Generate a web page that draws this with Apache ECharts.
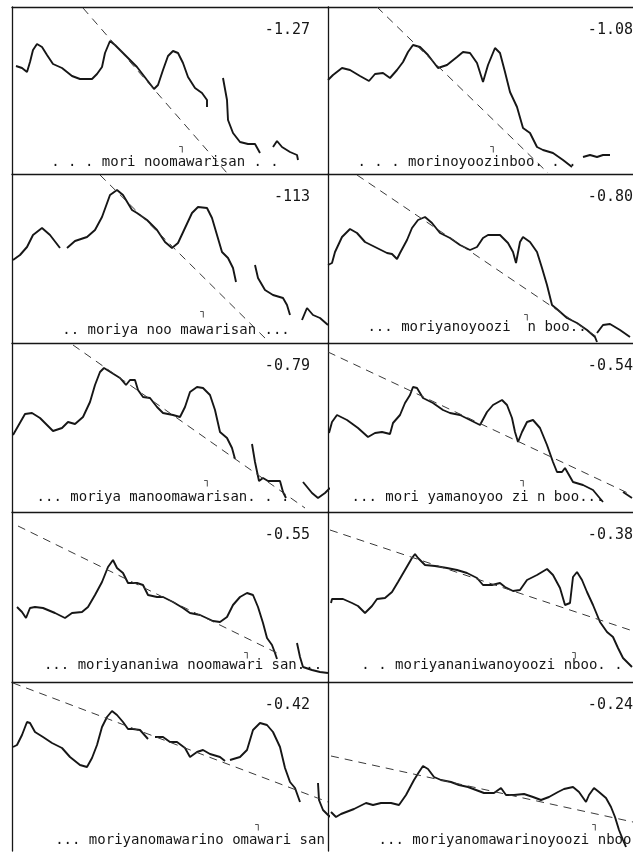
<!DOCTYPE html>
<html>
<head>
<meta charset="utf-8">
<script src="https://cdn.jsdelivr.net/npm/echarts@6/dist/echarts.min.js"></script>
<style>
  html, body { margin: 0; padding: 0; background: #fff; }
  #chart { width: 633px; height: 854px; }
</style>
</head>
<body>
<div id="chart"></div>
<script>
// F0 contours, one panel per utterance (x = time, y = pitch, panel units)
const contour1 = [
  [[4,108],[10,106],[15,102],[18,112],[21,124],[25,130],[30,127],[35,119],[41,110],[50,106],[60,98],[68,95],[80,95],[85,100],[90,107],[93,121],[98,133],[103,129],[113,119],[125,107],[135,94],[142,85],[146,89],[151,104],[156,118],[161,123],[166,121],[171,111],[176,97],[183,86],[190,81],[195,74],[195,67]],
  [[211,96],[215,74],[216,54],[221,41],[228,32],[236,30],[243,30],[248,21]],
  [[261,27],[265,33],[270,27],[278,22],[285,19],[286,14]]
]
const contour2 = [
  [[0,94],[5,99],[14,106],[22,104],[32,98],[41,93],[47,100],[55,101],[62,96],[69,104],[75,112],[80,122],[85,129],[92,127],[100,119],[110,106],[119,109],[129,117],[135,122],[142,121],[149,111],[155,92],[160,109],[167,126],[172,121],[177,102],[182,82],[189,67],[195,46],[202,41],[209,27],[215,24],[225,21],[235,14],[244,7]],
  [[255,17],[262,19],[269,17],[275,19],[282,19]]
]
const contour3 = [
  [[1,83],[8,88],[15,96],[21,108],[30,115],[38,108],[48,95]],
  [[55,95],[63,102],[75,106],[83,113],[90,126],[98,148],[105,153],[111,148],[120,133],[125,130],[135,123],[145,113],[153,101],[160,95],[166,100],[173,115],[180,130],[186,136],[195,135],[200,125],[205,108],[210,91],[216,85],[221,75],[224,61]],
  [[243,78],[246,65],[253,53],[261,48],[271,45],[275,38],[278,28]],
  [[290,23],[295,35],[301,28],[308,25],[316,18]]
]
const contour4 = [
  [[0,78],[4,80],[7,91],[14,106],[22,114],[29,110],[37,101],[49,95],[59,90],[64,89],[69,84],[72,90],[79,103],[84,115],[90,123],[97,126],[104,120],[112,110],[122,105],[132,98],[142,93],[149,96],[155,105],[160,108],[172,108],[180,100],[185,91],[188,80],[192,101],[195,106],[202,101],[209,91],[214,75],[219,58],[224,38],[230,33],[239,25],[249,20],[259,13],[267,6],[269,1]],
  [[269,10],[275,18],[282,19],[292,13],[302,6]]
]
const contour5 = [
  [[1,77],[5,84],[13,98],[20,99],[28,94],[41,81],[50,84],[56,90],[63,88],[71,95],[78,110],[83,127],[88,140],[92,144],[100,139],[108,134],[114,127],[118,132],[123,132],[126,122],[131,115],[138,114],[145,105],[151,99],[161,97],[168,95],[173,105],[178,120],[185,125],[191,124],[198,117],[203,102],[208,80],[215,74],[220,64],[223,53]],
  [[240,68],[243,50],[247,31],[251,34],[256,31],[268,31],[271,20],[274,14]],
  [[291,30],[300,19],[306,14],[313,19],[318,24]]
]
const contour6 = [
  [[1,79],[4,90],[9,97],[19,92],[30,84],[40,75],[47,79],[54,80],[62,78],[65,89],[72,97],[77,109],[82,117],[85,125],[89,124],[95,114],[105,109],[115,102],[122,99],[132,97],[142,92],[152,87],[159,100],[165,107],[174,112],[179,107],[184,94],[187,80],[190,70],[194,80],[199,90],[205,92],[212,84],[219,67],[225,50],[229,40],[234,40],[237,44],[245,30],[255,27],[265,22],[275,10]],
  [[295,20],[304,14]]
]
const contour7 = [
  [[5,75],[10,70],[14,64],[18,74],[23,75],[31,74],[43,69],[53,64],[60,69],[70,70],[76,75],[83,87],[90,100],[96,115],[101,122],[105,114],[111,109],[116,99],[125,99],[131,97],[136,87],[145,85],[151,85],[161,80],[171,74],[178,69],[188,67],[201,61],[208,60],[215,65],[221,77],[228,85],[235,89],[241,87],[246,75],[251,59],[255,44],[260,37],[263,29],[265,23]],
  [[285,39],[288,25],[291,15],[300,12],[308,10],[316,9]]
]
const contour8 = [
  [[3,79],[4,83],[15,83],[24,79],[30,76],[37,69],[44,76],[49,83],[57,84],[64,90],[70,100],[77,112],[84,124],[87,128],[90,124],[97,117],[107,116],[119,114],[129,112],[139,109],[149,104],[155,97],[164,97],[172,99],[177,95],[185,91],[192,92],[199,102],[209,107],[219,113],[225,107],[232,94],[237,77],[242,79],[245,105],[249,110],[254,102],[259,90],[265,77],[272,60],[279,50],[285,45],[290,34],[295,24],[300,19],[304,15]]
]
const contour9 = [
  [[1,104],[5,106],[10,116],[15,129],[18,128],[23,119],[31,114],[40,108],[50,103],[58,94],[68,86],[75,84],[80,93],[85,106],[90,124],[95,134],[100,140],[105,136],[111,129],[116,122],[121,122],[128,121],[136,112]],
  [[143,114],[151,114],[158,109],[165,109],[173,103],[178,94],[185,99],[191,101],[198,97],[208,94],[213,90]],
  [[218,91],[228,94],[235,101],[241,121],[248,128],[255,126],[261,119],[268,104],[273,83],[278,69],[283,63],[288,49]],
  [[306,68],[307,51],[311,41],[316,36],[320,33]]
]
const contour10 = [
  [[3,39],[8,34],[13,37],[26,42],[38,48],[45,46],[53,48],[63,48],[71,46],[78,56],[86,71],[91,79],[95,85],[100,82],[106,74],[113,71],[123,69],[131,66],[140,64],[148,61],[156,58],[166,58],[173,63],[178,56],[186,56],[196,57],[205,54],[213,51],[221,54],[230,59],[236,62],[245,64],[251,59],[258,49],[261,56],[266,63],[271,59],[278,53],[283,44],[287,34],[291,21],[295,11],[298,4]]
]

// declination (regression) lines, two end points each
const trend1 = [[71,166],[215,1]]
const trend2 = [[49,167],[220,1]]
const trend3 = [[88,168],[257,1]]
const trend4 = [[29,168],[272,4]]
const trend5 = [[61,167],[293,4]]
const trend6 = [[0,160],[304,17]]
const trend7 = [[6,156],[265,29]]
const trend8 = [[2,152],[302,52]]
const trend9 = [[1,168],[316,49]]
const trend10 = [[3,95],[305,29]]

const slopes = ['-1.27', '-1.08', '-113', '-0.80', '-0.79', '-0.54', '-0.55', '-0.38', '-0.42', '-0.24']
const sentences = [
  '. . . mori noomawarisan . .',
  '. . . morinoyoozinboo. . .',
  '.. moriya noo mawarisan ...',
  '... moriyanoyoozi  n boo..',
  '... moriya manoomawarisan. . .',
  '... mori yamanoyoo zi n boo...',
  '... moriyananiwa noomawari san...',
  '. . moriyananiwanoyoozi nboo. .',
  '... moriyanomawarino omawari san',
  '... moriyanomawarinoyoozi nboo'
]

const contours = [contour1, contour2, contour3, contour4, contour5, contour6, contour7, contour8, contour9, contour10]
const trends = [trend1, trend2, trend3, trend4, trend5, trend6, trend7, trend8, trend9, trend10]

// layout
const rowEdges = [7, 174, 343, 512, 682, 851]
const colLeft = [12, 328]
const colWidth = [316, 305]
const slopeRight = [310, 633]
const labelCenter = [[165, 162], [467, 162], [176, 330], [477, 327], [163, 497], [478, 497], [183, 665], [492, 665], [190, 840], [505, 840]]
const accentPos = [[182, 147], [493, 147], [203, 312], [527, 315], [207, 481], [523, 481], [247, 653], [575, 653], [258, 825], [595, 825]]

const ink = '#161616'
const frame = { color: ink, width: 1.3 }
const bare = { axisTick: { show: false }, axisLabel: { show: false }, splitLine: { show: false } }

const chart = echarts.init(document.getElementById('chart'))
const grids = []
const xAxes = []
const yAxes = []
const series = []
const graphics = []

for (let i = 0; i < 10; i++) {
  const row = Math.floor(i / 2)
  const col = i % 2
  const top = rowEdges[row]
  const h = rowEdges[row + 1] - top
  grids.push({ left: colLeft[col], top: top, width: colWidth[col], height: h })
  xAxes.push(Object.assign({
    type: 'value', gridIndex: i, min: 0, max: colWidth[col], position: 'bottom',
    axisLine: { show: row < 4, onZero: false, lineStyle: frame }
  }, bare))
  yAxes.push(Object.assign({
    type: 'value', gridIndex: i, min: 0, max: h, position: 'left',
    axisLine: { show: true, onZero: false, lineStyle: frame }
  }, bare))

  contours[i].forEach(function(seg) {
    series.push({
      type: 'line', xAxisIndex: i, yAxisIndex: i, data: seg,
      showSymbol: false, clip: false, silent: true,
      lineStyle: { color: ink, width: 1.9 }
    })
  })
  series.push({
    type: 'line', xAxisIndex: i, yAxisIndex: i, data: trends[i],
    showSymbol: false, clip: false, silent: true,
    lineStyle: { color: '#3a3a3a', width: 1, type: [8, 6] }
  })

  graphics.push({
    type: 'text', x: slopeRight[col], y: top + 23,
    style: { text: slopes[i], fill: ink, font: '15px "DejaVu Sans Mono"', align: 'right', textAlign: 'right', verticalAlign: 'middle', textVerticalAlign: 'middle' }
  })
  graphics.push({
    type: 'text', x: labelCenter[i][0], y: labelCenter[i][1],
    style: { text: sentences[i], fill: ink, font: '14px "DejaVu Sans Mono"', align: 'center', textAlign: 'center', verticalAlign: 'middle', textVerticalAlign: 'middle' }
  })
  graphics.push({
    type: 'text', x: accentPos[i][0], y: accentPos[i][1],
    style: { text: '┐', fill: ink, font: '10px "DejaVu Sans"', align: 'center', textAlign: 'center', verticalAlign: 'middle', textVerticalAlign: 'middle' }
  })
}

// top frame line of the first row
for (let c = 0; c < 2; c++) {
  xAxes.push(Object.assign({
    type: 'value', gridIndex: c, min: 0, max: colWidth[c], position: 'top',
    axisLine: { show: true, onZero: false, lineStyle: frame }
  }, bare))
}

chart.setOption({
  backgroundColor: '#fff',
  animation: false,
  grid: grids,
  xAxis: xAxes,
  yAxis: yAxes,
  series: series,
  graphic: graphics
})
</script>
</body>
</html>
